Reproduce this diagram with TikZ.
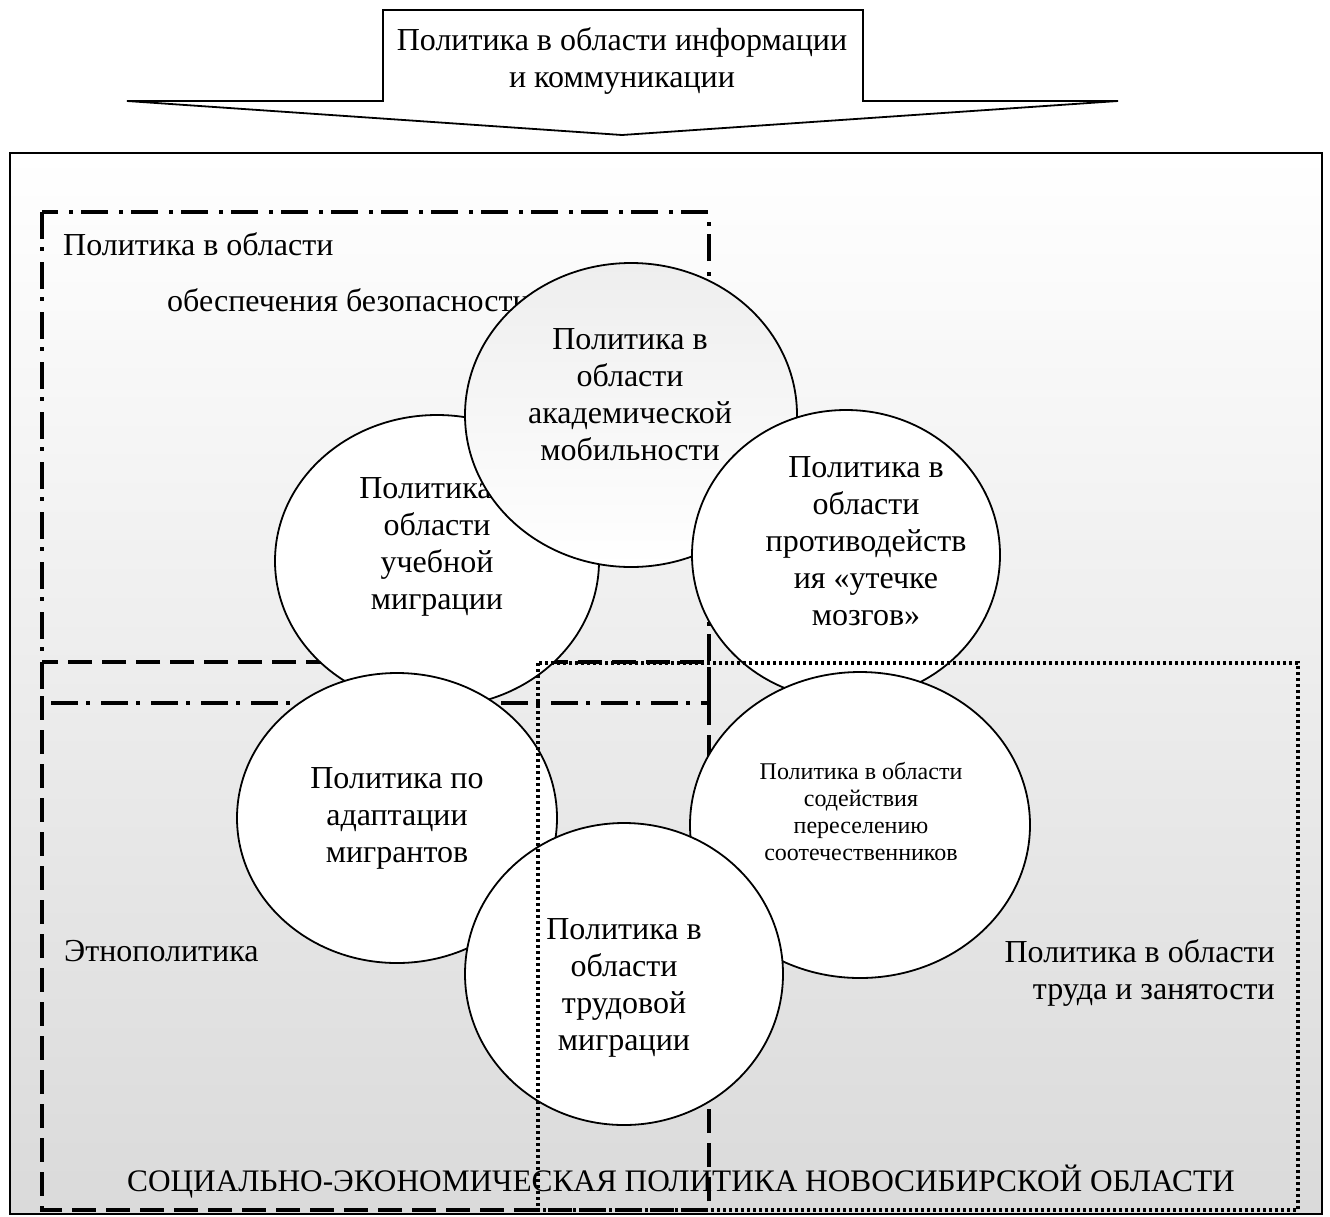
\documentclass[tikz,border=0pt]{standalone}
\usepackage{fontspec}
\setmainfont{Liberation Serif}
\usetikzlibrary{shapes.geometric}
\definecolor{bgbottom}{RGB}{218,218,218}
\definecolor{circtop}{RGB}{238,238,238}
\begin{document}
\begin{tikzpicture}[x=1pt,y=-1pt,
  every node/.style={inner sep=0pt},
  txt/.style={font=\fontsize{32}{37}\selectfont, align=center},
  smalltxt/.style={font=\fontsize{24}{27}\selectfont, align=center},
  bottomtxt/.style={font=\fontsize{31.3}{37}\selectfont},
  bubble/.style={ellipse, draw=black, line width=1.8pt, fill=white, inner sep=0pt},
  frameline/.style={draw=black, line width=1.8pt},
  dashdotline/.style={line width=4.5pt, dash pattern=on 27pt off 8pt on 4pt off 11pt},
  dashline/.style={line width=4pt, dash pattern=on 24pt off 10pt},
  dotline/.style={line width=3.5pt, dash pattern=on 3pt off 3pt}]
\useasboundingbox (0,0) rectangle (1330,1216);
\fill[white] (0,0) rectangle (1330,1216);
% top arrow
\draw[frameline, fill=white] (383,10) -- (863,10) -- (863,101) -- (1118,101) -- (622,135) -- (127,101) -- (383,101) -- cycle;
\node[txt] (info) at (622,61) {Политика в области информации\\и коммуникации};
% main frame
\shade[top color=white, bottom color=bgbottom] (10,153) rectangle (1322,1214);
\draw[frameline] (10,153) rectangle (1322,1214);
% security and ethno areas (under the circles)
\draw[dashdotline] (42,212) rectangle (709,703);
\draw[dashline] (42,662) rectangle (709,1210);
\node[txt, anchor=base west] (sec1) at (63,255) {Политика в области};
\node[txt, anchor=base west] (sec2) at (167,311) {обеспечения безопасности};
\node[txt, anchor=base west] (ethno) at (64,961) {Этнополитика};
% circles
\node[bubble, minimum width=324pt, minimum height=292pt] (study) at (437,561) {};
\node[txt] (studyt) at (437,547) {Политика в\\области\\учебной\\миграции};
\node[bubble, top color=circtop, bottom color=white, minimum width=332pt, minimum height=304pt] (acad) at (631,415) {};
\node[txt] (acadt) at (630,395) {Политика в\\области\\академической\\мобильности};
\node[bubble, minimum width=308pt, minimum height=290pt] (brain) at (846,555) {};
\node[txt] (braint) at (866,541) {Политика в\\области\\противодейств\\ия «утечке\\мозгов»};
\node[bubble, minimum width=320pt, minimum height=290pt] (adapt) at (397,818) {};
\node[txt] (adaptt) at (397,818) {Политика по\\адаптации\\мигрантов};
\node[bubble, minimum width=340pt, minimum height=306pt] (compat) at (860,825) {};
\node[smalltxt] (compatt) at (861,812) {Политика в области\\содействия\\переселению\\соотечественников};
\node[bubble, minimum width=318pt, minimum height=302pt] (labour) at (624,974) {};
\node[txt] (labourt) at (624,988) {Политика в\\области\\трудовой\\миграции};
% labour and employment area (over the circles)
\draw[dotline] (538,663) rectangle (1298,1210);
\node[txt, align=right, anchor=east] (work) at (1275,973) {Политика в области\\труда и занятости};
\node[bottomtxt, anchor=base] (soc) at (681,1191) {СОЦИАЛЬНО-ЭКОНОМИЧЕСКАЯ ПОЛИТИКА НОВОСИБИРСКОЙ ОБЛАСТИ};
\end{tikzpicture}
\end{document}
